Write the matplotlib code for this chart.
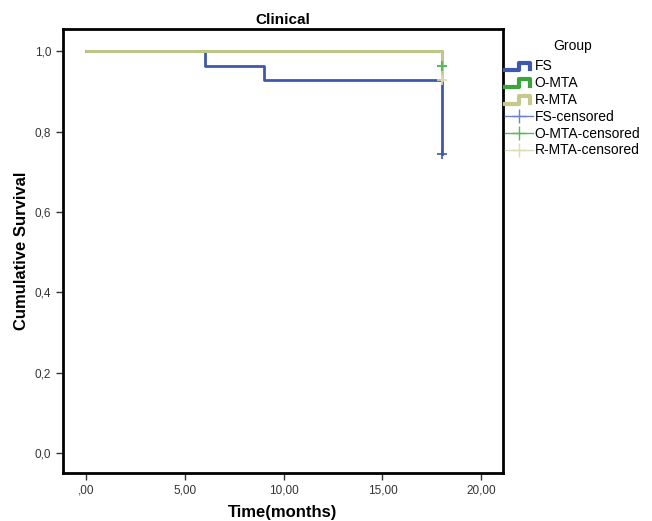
import matplotlib
matplotlib.use("Agg")
import matplotlib.pyplot as plt
from matplotlib.legend_handler import HandlerBase
from matplotlib.lines import Line2D

plt.rcParams['font.family'] = ['Liberation Sans', 'DejaVu Sans']

# Kaplan-Meier step data (time, survival)
fs_t = [0, 6, 6, 9, 9, 18, 18]
fs_s = [1.0, 1.0, 0.964, 0.964, 0.929, 0.929, 0.745]
omta_t = [0, 18, 18]
omta_s = [1.0, 1.0, 0.964]
rmta_t = [0, 18, 18]
rmta_s = [1.0, 1.0, 0.929]

# censored points
fs_cens = ([18], [0.745])
omta_cens = ([18], [0.964])
rmta_cens = ([18], [0.929])

xticks = [0, 5, 10, 15, 20]
xticklabels = [',00', '5,00', '10,00', '15,00', '20,00']
yticks = [0.0, 0.2, 0.4, 0.6, 0.8, 1.0]
yticklabels = ['0,0', '0,2', '0,4', '0,6', '0,8', '1,0']

c_fs = '#3e58ac'
c_omta = '#3ba43b'
c_rmta = '#c6c88c'
c_fs_c = '#6e82c4'
c_omta_c = '#5cb85c'
c_rmta_c = '#dcdcb4'


class StepHandler(HandlerBase):
    "Dibuja un pequeño escalon en la leyenda"
    def create_artists(self, legend, orig, xd, yd, width, height, fontsize, trans):
        xs = [xd, xd + width * 0.5, xd + width * 0.5, xd + width * 0.9, xd + width * 0.9]
        ys = [yd + height * 0.05, yd + height * 0.05, yd + height * 0.8, yd + height * 0.8, yd + height * 0.15]
        ln = Line2D(xs, ys, color=orig.get_color(), lw=3, transform=trans)
        return [ln]


fig = plt.figure(figsize=(6.52, 5.21), dpi=100)
ax = fig.add_axes([0.0966, 0.092, 0.675, 0.852])

ax.plot(fs_t, fs_s, color=c_fs, lw=2)
ax.plot(omta_t, omta_s, color=c_omta, lw=2)
ax.plot(rmta_t, rmta_s, color=c_rmta, lw=2)
ax.plot(*omta_cens, linestyle='none', marker='+', color=c_omta_c, ms=7, mew=1.5)
ax.plot(*fs_cens, linestyle='none', marker='+', color=c_fs, ms=7, mew=1.2)
ax.plot(*rmta_cens, linestyle='none', marker='+', color=c_rmta_c, ms=7, mew=1.2)

ax.set_xlim(-1.16, 21.1)
ax.set_ylim(-0.05, 1.055)
ax.set_xticks(xticks)
ax.set_xticklabels(xticklabels)
ax.set_yticks(yticks)
ax.set_yticklabels(yticklabels)
ax.tick_params(direction='out', length=5, width=1, labelsize=8.5, colors='#333333')
for sp in ax.spines.values():
    sp.set_linewidth(2)
    sp.set_color('black')

ax.set_title('Clinical', fontsize=11, fontweight='bold', pad=4)
ax.set_xlabel('Time(months)', fontsize=12, fontweight='bold', labelpad=6)
ax.set_ylabel('Cumulative Survival', fontsize=12, fontweight='bold', labelpad=4)

h_fs = Line2D([], [], color=c_fs)
h_omta = Line2D([], [], color=c_omta)
h_rmta = Line2D([], [], color=c_rmta)
h_fs_c = Line2D([], [], color=c_fs_c, marker='+', ms=10, lw=1)
h_omta_c = Line2D([], [], color=c_omta_c, marker='+', ms=10, lw=1)
h_rmta_c = Line2D([], [], color=c_rmta_c, marker='+', ms=10, lw=1)

leg = fig.legend([h_fs, h_omta, h_rmta, h_fs_c, h_omta_c, h_rmta_c],
                 ['FS', 'O-MTA', 'R-MTA', 'FS-censored', 'O-MTA-censored', 'R-MTA-censored'],
                 title='Group', loc='upper left', bbox_to_anchor=(0.7745, 0.926),
                 frameon=False, fontsize=10, title_fontsize=10,
                 handlelength=2.0, handletextpad=0.15, labelspacing=0.2,
                 borderpad=0, borderaxespad=0,
                 handler_map={h_fs: StepHandler(), h_omta: StepHandler(), h_rmta: StepHandler()})
leg._legend_box.align = 'left'
leg._legend_box.sep = 5
leg.get_title().set_position((48, 0))

fig.savefig('out.png', dpi=100)
